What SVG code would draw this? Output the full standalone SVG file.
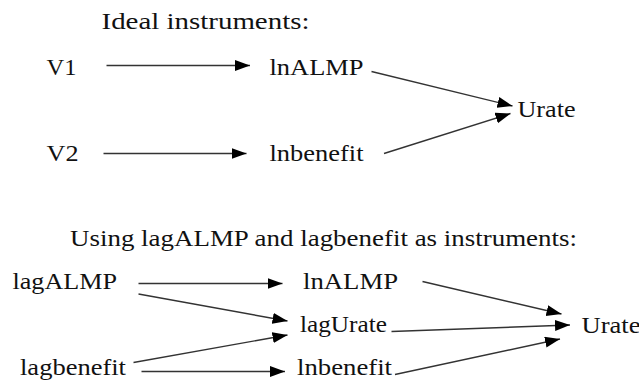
<svg xmlns="http://www.w3.org/2000/svg" width="639" height="381" viewBox="0 0 639 381">
  <style>
    text { fill: #111; font-size: 23px; font-family: "Liberation Serif", "Times New Roman", serif; }
    .title { font-size: 24px; }
    .edge { stroke: #333; stroke-width: 1.4; fill: none; marker-end: url(#arrow); }
  </style>
  <defs>
    <marker id="arrow" markerUnits="userSpaceOnUse" markerWidth="16" markerHeight="12" refX="15" refY="5.5" orient="auto">
      <path d="M0,0 L15,5.5 L0,11 Z" fill="#000"/>
    </marker>
  </defs>
  <rect width="639" height="381" fill="#fff"/>

  <!-- Upper model: ideal instruments -->
  <text class="title" x="101.5" y="29" textLength="208" lengthAdjust="spacingAndGlyphs">Ideal instruments:</text>

  <g id="top-V1"><text x="46.5" y="75" textLength="30" lengthAdjust="spacingAndGlyphs">V1</text></g>
  <g id="top-V2"><text x="46.5" y="161" textLength="32" lengthAdjust="spacingAndGlyphs">V2</text></g>
  <g id="top-lnALMP"><text x="269.5" y="75" textLength="94" lengthAdjust="spacingAndGlyphs">lnALMP</text></g>
  <g id="top-lnbenefit"><text x="269.5" y="161" textLength="94" lengthAdjust="spacingAndGlyphs">lnbenefit</text></g>
  <g id="top-Urate"><text x="517.5" y="117" textLength="58" lengthAdjust="spacingAndGlyphs">Urate</text></g>

  <!-- Lower model: lagged instruments -->
  <text class="title" x="70" y="245.5" textLength="507" lengthAdjust="spacingAndGlyphs">Using lagALMP and lagbenefit as instruments:</text>

  <g id="lagALMP"><text x="12.5" y="288.5" textLength="104.5" lengthAdjust="spacingAndGlyphs">lagALMP</text></g>
  <g id="lagbenefit"><text x="20" y="375" textLength="106" lengthAdjust="spacingAndGlyphs">lagbenefit</text></g>
  <g id="lnALMP"><text x="303" y="289" textLength="95" lengthAdjust="spacingAndGlyphs">lnALMP</text></g>
  <g id="lagUrate"><text x="300" y="332" textLength="87" lengthAdjust="spacingAndGlyphs">lagUrate</text></g>
  <g id="lnbenefit"><text x="297" y="375" textLength="95" lengthAdjust="spacingAndGlyphs">lnbenefit</text></g>
  <g id="Urate"><text x="581.5" y="332.5" textLength="59" lengthAdjust="spacingAndGlyphs">Urate</text></g>

  <g id="top-edges">
    <line class="edge" x1="106.5" y1="65.5" x2="250" y2="65.5"/>
    <line class="edge" x1="103.5" y1="153.5" x2="246.5" y2="153.5"/>
    <line class="edge" x1="371.5" y1="71.5" x2="512.5" y2="106"/>
    <line class="edge" x1="384" y1="153.5" x2="510.5" y2="113.5"/>
  </g>

  <g id="bottom-edges">
    <line class="edge" x1="138.5" y1="283.5" x2="282.5" y2="283.5"/>
    <line class="edge" x1="138.5" y1="294" x2="287.5" y2="321"/>
    <line class="edge" x1="133.5" y1="362.5" x2="287.5" y2="335"/>
    <line class="edge" x1="141.5" y1="371.5" x2="285" y2="371.5"/>
    <line class="edge" x1="422.5" y1="281.5" x2="561.5" y2="314"/>
    <line class="edge" x1="391.5" y1="331.5" x2="570" y2="325"/>
    <line class="edge" x1="395" y1="374.5" x2="560" y2="339"/>
  </g>
</svg>
